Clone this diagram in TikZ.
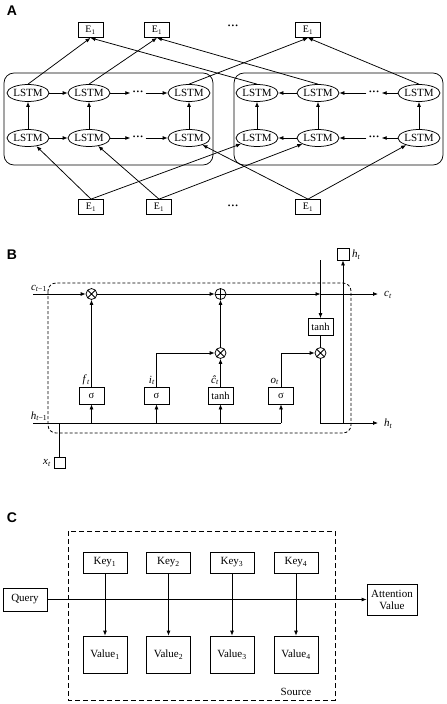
\documentclass[tikz,border=0pt]{standalone}
\usepackage{fontspec}
\setmainfont{Liberation Serif}
\newfontfamily\panelfont{Liberation Sans}
\usepackage{tikz}
\usetikzlibrary{shapes.geometric,arrows.meta}

\begin{document}
\begin{tikzpicture}[x=1pt,y=-1pt]
        \tikzset{Cell/.style={%
                shape=ellipse,%
                draw=black,%
                line width=0.75pt,%
                minimum width=42pt,%
                minimum height=17pt,%
                inner sep=0pt,%
                font=\fontsize{11}{12}\selectfont,%
            },
            Token/.style={shape=rectangle, draw=black, line width=0.75pt, minimum width=25pt, minimum height=15pt, inner sep=0pt, font=\fontsize{10}{11}\selectfont},
            Gate/.style={shape=rectangle, draw=black, line width=0.75pt, minimum width=25pt, minimum height=17pt, inner sep=0pt, font=\fontsize{10.5}{11}\selectfont},
            Mult/.style={shape=circle, draw=black, line width=0.75pt, minimum size=11pt, inner sep=0pt,%
                path picture={\draw[line width=0.75pt] (path picture bounding box.north west) -- (path picture bounding box.south east) (path picture bounding box.north east) -- (path picture bounding box.south west);}},
            Add/.style={shape=circle, draw=black, line width=0.75pt, minimum size=11pt, inner sep=0pt,%
                path picture={\draw[line width=0.75pt] (path picture bounding box.north) -- (path picture bounding box.south) (path picture bounding box.west) -- (path picture bounding box.east);}},
            Key/.style={shape=rectangle, draw=black, line width=0.75pt, minimum width=44pt, minimum height=21pt, inner sep=0pt, font=\fontsize{11}{12}\selectfont},
            Value/.style={Key, minimum height=37pt},
            Label/.style={inner sep=0pt, font=\fontsize{11}{12}\selectfont},
            Dots/.style={inner sep=2pt, font=\bfseries\fontsize{11}{12}\selectfont},
            Panel/.style={inner sep=0pt, font=\panelfont\bfseries\fontsize{14}{14}\selectfont},
            Link/.style={-{Latex[length=5pt,width=4pt]}, line width=0.75pt},
            Wire/.style={-, line width=0.75pt},
        }

        \useasboundingbox (0,0) rectangle (447,704);

        \node[Panel] (A) at (12,11) {A};
        \node[Panel] (B) at (12,255) {B};
        \node[Panel] (C) at (12,518) {C};

        \draw[line width=0.75pt, rounded corners=10pt] (4,73) rectangle (213,165);
        \draw[line width=0.75pt, rounded corners=10pt] (234,73) rectangle (443,165);

        \node[Cell] (fb1) at (28,93) {LSTM};
        \node[Cell] (fb2) at (89,93) {LSTM};
        \node[Dots] (fbd) at (138,93) {···};
        \node[Cell] (fb3) at (189,93) {LSTM};
        \node[Cell] (fa1) at (28,138) {LSTM};
        \node[Cell] (fa2) at (89,138) {LSTM};
        \node[Dots] (fad) at (138,138) {···};
        \node[Cell] (fa3) at (189,138) {LSTM};
        \node[Cell] (bb1) at (257,93) {LSTM};
        \node[Cell] (bb2) at (318,93) {LSTM};
        \node[Dots] (bbd) at (374,93) {···};
        \node[Cell] (bb3) at (419,93) {LSTM};
        \node[Cell] (ba1) at (257,138) {LSTM};
        \node[Cell] (ba2) at (318,138) {LSTM};
        \node[Dots] (bad) at (374,138) {···};
        \node[Cell] (ba3) at (419,138) {LSTM};

        \node[Token] (out1) at (90.5,30) {E\textsubscript{1}};
        \node[Token] (out2) at (157,30) {E\textsubscript{1}};
        \node[Dots] (outd) at (233,27) {···};
        \node[Token] (out3) at (308,30) {E\textsubscript{1}};
        \node[Token] (in1) at (91,207) {E\textsubscript{1}};
        \node[Token] (in2) at (159,207) {E\textsubscript{1}};
        \node[Dots] (ind) at (233,207) {···};
        \node[Token] (in3) at (308,207) {E\textsubscript{1}};

        \path (fa1) edge[Link] (fa2);
        \path (fa2) edge[Link] (fad);
        \path (fad) edge[Link] (fa3);
        \path (fb1) edge[Link] (fb2);
        \path (fb2) edge[Link] (fbd);
        \path (fbd) edge[Link] (fb3);
        \path (ba2) edge[Link] (ba1);
        \path (bad) edge[Link] (ba2);
        \path (ba3) edge[Link] (bad);
        \path (bb2) edge[Link] (bb1);
        \path (bbd) edge[Link] (bb2);
        \path (bb3) edge[Link] (bbd);
        \path (fa1) edge[Link] (fb1);
        \path (fa2) edge[Link] (fb2);
        \path (fa3) edge[Link] (fb3);
        \path (ba1) edge[Link] (bb1);
        \path (ba2) edge[Link] (bb2);
        \path (ba3) edge[Link] (bb3);

        \path (fb1.north) edge[Link] (out1.south);
        \path (bb1.north) edge[Link] (out1.south);
        \path (fb2.north) edge[Link] (out2.south);
        \path (bb2.north) edge[Link] (out2.south);
        \path (fb3.north) edge[Link] (out3.south);
        \path (bb3.north) edge[Link] (out3.south);
        \path (in1.north) edge[Link] (fa1);
        \path (in1.north) edge[Link] (ba1);
        \path (in2.north) edge[Link] (fa2);
        \path (in2.north) edge[Link] (ba2);
        \path (in3.north) edge[Link] (fa3);
        \path (in3.north) edge[Link] (ba3);

        \draw[line width=0.8pt, dash pattern=on 3pt off 2pt, rounded corners=8pt] (48,283) rectangle (351,433);

        \coordinate (cprev) at (33,294);
        \coordinate (hprev) at (33,423);
        \coordinate (cmid) at (320.5,294);
        \coordinate (cnext) at (378,294);
        \coordinate (hnext) at (378,423);
        \coordinate (ctop) at (320.5,260);

        \node[Label, anchor=south] (cprevl) at (39,292) {\textit{c}\textsubscript{\textit{t}−1}};
        \node[Label, anchor=south] (hprevl) at (39,421) {\textit{h}\textsubscript{\textit{t}−1}};
        \node[Label, anchor=west] (cnextl) at (384,295) {\textit{c}\textsubscript{\textit{t}}};
        \node[Label, anchor=west] (hnextl) at (384,424) {\textit{h}\textsubscript{\textit{t}}};

        \node[Mult] (mul1) at (91.5,294) {};
        \node[Add] (add) at (220.5,294) {};
        \node[Mult] (mul2) at (220.5,353) {};
        \node[Mult] (mul3) at (320.5,353) {};

        \node[Gate] (fg) at (91.5,395.5) {σ};
        \node[Gate] (ig) at (156.5,395.5) {σ};
        \node[Gate] (cg) at (220.5,395.5) {tanh};
        \node[Gate] (og) at (281,395.5) {σ};
        \node[Gate] (tg) at (320.5,327) {tanh};

        \node[Label, anchor=south east] (fl) at (90,385) {\textit{f}\textsubscript{\textit{t}}};
        \node[Label, anchor=south east] (il) at (155,385) {\textit{i}\textsubscript{\textit{t}}};
        \node[Label, anchor=south east] (cl) at (219,385) {\textit{ĉ}\textsubscript{\textit{t}}};
        \node[Label, anchor=south east] (ol) at (279,385) {\textit{o}\textsubscript{\textit{t}}};

        \node[Gate, minimum width=12pt, minimum height=12pt] (hbox) at (343,254) {};
        \node[Label, anchor=west] (hboxl) at (352,255) {\textit{h}\textsubscript{\textit{t}}};
        \node[Gate, minimum width=11pt, minimum height=11pt] (xbox) at (59.5,462.5) {};
        \node[Label, anchor=east] (xboxl) at (51,463) {\textit{x}\textsubscript{\textit{t}}};

        \path (cprev) edge[Link] (mul1);
        \path (mul1) edge[Link] (add);
        \path (add) edge[Link] (cmid);
        \path (cmid) edge[Link] (cnext);
        \path (ctop) edge[Link] (tg);
        \path (tg) edge[Wire] (mul3);
        \path (fg) edge[Link] (mul1);
        \path (cg) edge[Link] (mul2);
        \path (mul2) edge[Link] (add);
        \draw[Link] (ig.north) |- (mul2.west);
        \draw[Link] (og.north) |- (mul3.west);
        \draw[Wire] (hprev) -- (og.south |- hprev);
        \path (fg.south |- hprev) edge[Link] (fg.south);
        \path (ig.south |- hprev) edge[Link] (ig.south);
        \path (cg.south |- hprev) edge[Link] (cg.south);
        \path (og.south |- hprev) edge[Link] (og.south);
        \draw[Link] (mul3.south) |- (hnext);
        \path (hbox.south |- hnext) edge[Link] (hbox.south);
        \path (xbox.north) edge[Wire] (xbox.north |- hprev);

        \draw[line width=0.8pt, dash pattern=on 5pt off 3pt] (68,531) rectangle (335,700);

        \node[Key] (k1) at (105,562.5) {Key\textsubscript{1}};
        \node[Key] (k2) at (168.5,562.5) {Key\textsubscript{2}};
        \node[Key] (k3) at (232,562.5) {Key\textsubscript{3}};
        \node[Key] (k4) at (296,562.5) {Key\textsubscript{4}};
        \node[Value] (v1) at (105,654.5) {Value\textsubscript{1}};
        \node[Value] (v2) at (168.5,654.5) {Value\textsubscript{2}};
        \node[Value] (v3) at (232,654.5) {Value\textsubscript{3}};
        \node[Value] (v4) at (296,654.5) {Value\textsubscript{4}};
        \node[Key, minimum height=23pt] (query) at (25,599.5) {Query};
        \node[Key, minimum width=50pt, minimum height=31pt, align=center, font=\fontsize{11}{12}\selectfont] (att) at (392,599.5) {Attention\\Value};
        \node[Label] (src) at (296,692) {Source};

        \path (k1) edge[Link] (v1);
        \path (k2) edge[Link] (v2);
        \path (k3) edge[Link] (v3);
        \path (k4) edge[Link] (v4);
        \path (query) edge[Link] (att);
\end{tikzpicture}
\end{document}
